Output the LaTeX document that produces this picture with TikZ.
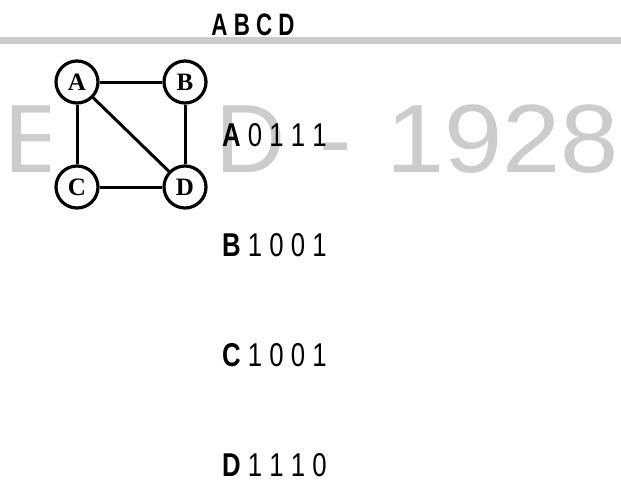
\documentclass[tikz,border=0pt]{standalone}
\usepackage{fontspec}
\setmainfont{Liberation Sans}
\newfontfamily\narrowfont[FakeStretch=0.78]{Liberation Sans}
\newfontfamily\hdrfont[FakeStretch=0.72]{Liberation Sans}
\newfontfamily\vertexfont{Liberation Serif}
\definecolor{wmgray}{HTML}{CCCCCC}
\tikzset{
  wm/.style={text=wmgray, inner sep=0pt, anchor=base west, font=\fontsize{97}{97}\selectfont},
  vertex/.style={circle, draw=black, line width=3.2pt, fill=white, minimum size=42pt, inner sep=0pt,
    font=\vertexfont\bfseries\fontsize{25}{25}\selectfont},
  edge/.style={draw=black, line width=3pt},
  rowtext/.style={inner sep=0pt, anchor=base west, font=\narrowfont\fontsize{33}{33}\selectfont},
}
\begin{document}
\begin{tikzpicture}[x=1pt,y=-1pt]
\useasboundingbox (0,0) rectangle (621,487);
% watermark
\fill[wmgray] (0,37) rectangle (621,44);
\node[wm] (wE) at (4,172) {E};
\node[wm] (wD) at (215,172) {D};
\node[wm] (wdash) at (319,172) {-};
\node[wm] (w1928) at (386,172) {\scalebox{1.08}[1]{1928}};
% graph panel
\fill[white] (50,52) rectangle (215,208);
\node[vertex] (A) at (77,82) {A};
\node[vertex] (B) at (185,82) {B};
\node[vertex] (C) at (77,187) {C};
\node[vertex] (D) at (185,187) {D};
\draw[edge] (A) -- (B);
\draw[edge] (A) -- (C);
\draw[edge] (A) -- (D);
\draw[edge] (B) -- (D);
\draw[edge] (C) -- (D);
% matrix text
\node[inner sep=0pt, anchor=base, font=\hdrfont\bfseries\fontsize{31}{31}\selectfont] (hdr) at (253,36) {A B C D};
\node[rowtext] (rA) at (222,146) {\textbf{A} 0 1 1 1};
\node[rowtext] (rB) at (222,256) {\textbf{B} 1 0 0 1};
\node[rowtext] (rC) at (222,366) {\textbf{C} 1 0 0 1};
\node[rowtext] (rD) at (222,476) {\textbf{D} 1 1 1 0};
\end{tikzpicture}
\end{document}
